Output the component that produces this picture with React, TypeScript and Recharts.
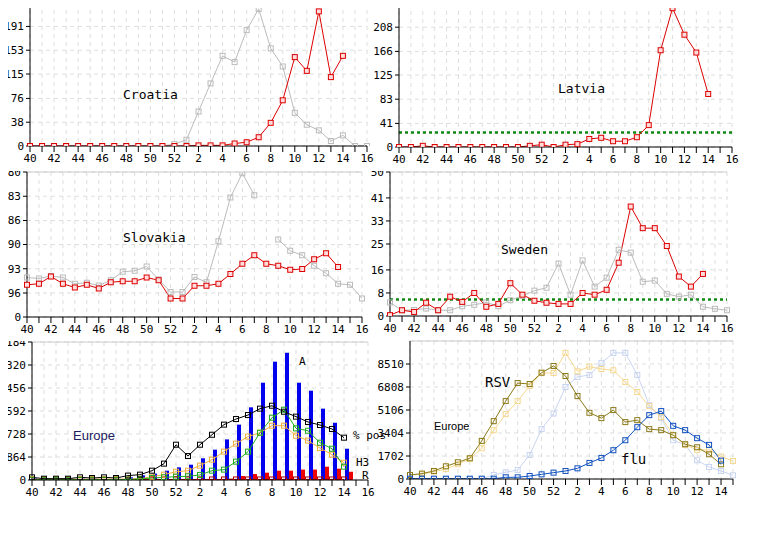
import React from "react";
import {
  ComposedChart,
  Line,
  Bar,
  XAxis,
  YAxis,
  CartesianGrid,
  ReferenceLine,
} from "recharts";

const weeks = [40, 41, 42, 43, 44, 45, 46, 47, 48, 49, 50, 51, 52, 1, 2, 3, 4, 5, 6, 7, 8, 9, 10, 11, 12, 13, 14, 15, 16];

const croatiaNow = [0, 0, 0, 0, 0, 0, 0, 0, 0, 0, 0, 0, 0, 0, 1, 1, 1, 4, 6, 14, 37, 73, 142, 120, 215, 110, 144, null, null];
const croatiaPrev = [0, 0, 0, 0, 0, 0, 0, 0, 0, 0, 0, 0, 3, 10, 55, 100, 144, 134, 185, 219, 156, 127, 53, 34, 25, 8, 17, 0, 0];
const latviaNow = [0, 0, 2, 0, 0, 0, 0, 0, 0, 0, 0, 2, 4, 0, 4, 5, 14, 16, 10, 10, 17, 38, 168, 241, 195, 164, 92, null, null];
const latviaThreshold = 25;
const slovakiaNow = [129, 133, 162, 133, 118, 129, 114, 139, 143, 143, 158, 147, 74, 74, 125, 125, 133, 172, 213, 247, 213, 205, 189, 192, 231, 255, 200, null, null];
const slovakiaPrev = [158, 154, 164, 158, 133, 137, 126, 147, 181, 185, 202, 150, 100, 100, 160, 139, 303, 478, 575, 487, null, 310, 265, 247, 205, 175, 133, 129, 74];
const swedenNow = [0.3, 2, 1.4, 4.6, 2, 6.7, 4.9, 8, 3.2, 4.2, 11.4, 7.4, 5.3, 4.6, 4.2, 4.2, 8, 7.4, 9.1, 18.5, 38, 30.5, 30.5, 24.3, 13.7, 10.2, 14.6, null, null];
const swedenPrev = [4.7, 2, 2.1, 2.6, 2, 2, 3.4, 3.9, 4.7, 3.4, 5.5, 7, 8.8, 9.8, 18.2, 7.4, 19.3, 10.2, 13.3, 23, 22, 11.9, 12.3, 7.7, 6.7, 7.4, 3.2, 2.5, 2];
const swedenThreshold = 5.7;

const euA = [60, 50, 50, 50, 50, 40, 40, 40, 100, 175, 240, 350, 475, 575, 815, 1140, 1525, 2080, 2730, 3655, 4445, 4780, 3655, 3355, 2680, 2150, 1175, null, null];
const euH3 = [0, 0, 0, 0, 0, 0, 0, 0, 0, 0, 0, 0, 0, 0, 0, 0, 50, 150, 225, 275, 350, 350, 390, 390, 500, 425, 310, null, null];
const euPos = [100, 50, 50, 50, 100, 75, 100, 75, 165, 200, 350, 615, 1325, 900, 1325, 1700, 2080, 2290, 2440, 2680, 2790, 2565, 2380, 2180, 2065, 1915, 1590, null, null];
const euGreen = [10, 10, 10, 10, 10, 10, 10, 10, 20, 40, 75, 100, 125, 140, 190, 350, 390, 690, 1065, 1775, 2340, 2640, 1940, 1850, 1400, 1175, 500, null, null];
const euOrange = [30, 30, 30, 30, 30, 30, 30, 30, 30, 50, 125, 200, 310, 350, 540, 765, 1065, 1365, 1630, 1775, 2040, 2040, 1665, 1480, 1200, 950, 650, null, null];
const euR = [20, 20, 20, 20, 20, 20, 20, 20, 20, 20, 20, 20, 20, 20, 20, 20, 20, 20, 20, 20, 20, 20, 20, 20, 20, 20, 20, null, null];

const rsvNow = [300, 400, 595, 940, 1240, 1535, 2820, 4280, 5765, 7100, 7030, 7870, 8365, 7620, 6135, 4900, 4505, 5100, 4210, 4355, 3690, 3615, 3240, 2575, 2350, 1830, 1090, null];
const rsvPrev = [300, 350, 545, 740, 1090, 1485, 2275, 3615, 4800, 5765, 6880, 7845, 7845, 9330, 7970, 8315, 8140, 8045, 7180, 6435, 5395, 4580, 3265, 2525, 2155, 2155, 1660, 1335];
const fluNow = [20, 20, 20, 20, 20, 20, 20, 20, 125, 125, 220, 345, 470, 595, 790, 1190, 1560, 2130, 2870, 3835, 4725, 5025, 3935, 3615, 3020, 2525, 1360, null];
const fluPrev = [20, 20, 20, 20, 20, 20, 20, 300, 495, 670, 1780, 3690, 4850, 6805, 7550, 7700, 8590, 9330, 9330, 7700, 5470, 4505, 2870, 2525, 1385, 890, 595, 270];

const FONT = "'DejaVu Sans Mono', monospace";

type SeriesDef = {
  values: (number | null)[];
  color: string;
  fill?: string;
  dots?: boolean;
  width?: number;
};

type PanelProps = {
  axisX: number;
  lastX: number;
  top: number;
  bottom: number;
  count: number;
  yMax: number;
  yTicks: number[];
  lines: SeriesDef[];
  bars?: { values: (number | null)[]; color: string; shift: number }[];
  threshold?: number;
};

const squareDot = (stroke: string, fill: string) => (p: any) => {
  if (p.cx == null || p.cy == null || p.value == null) return <g key={p.key} />;
  return (
    <rect key={p.key} x={p.cx - 2.5} y={p.cy - 2.5} width={5} height={5} stroke={stroke} fill={fill} strokeWidth={1} />
  );
};

function Panel({ axisX, lastX, top, bottom, count, yMax, yTicks, lines, bars, threshold }: PanelProps) {
  const yw = Math.min(36, axisX);
  const xh = 22;
  const mr = 8;
  const wk = weeks.slice(0, count);
  const rows = wk.map((w, i) => {
    const r: any = { i, w };
    lines.forEach((s, k) => (r["l" + k] = s.values[i]));
    (bars || []).forEach((b, k) => (r["b" + k] = b.values[i]));
    return r;
  });
  const idx = wk.map((_, i) => i);
  const width = yw + (lastX - axisX) + mr;
  const height = bottom - top + xh + 1;
  return (
    <div style={{ position: "absolute", left: axisX - yw, top: top - 1 }}>
      <ComposedChart width={width} height={height} data={rows} margin={{ top: 1, right: mr, bottom: 0, left: 0 }} barGap={0}>
        <CartesianGrid strokeDasharray="4 4" stroke="#dddddd" />
        <XAxis
          type="number"
          dataKey="i"
          domain={[0, count - 1]}
          ticks={idx}
          interval={0}
          tickFormatter={(v: number) => (wk[v] % 2 === 0 ? String(wk[v]) : "")}
          tick={{ fontSize: 11, fontFamily: FONT, fill: "#000" }}
          stroke="#000"
          tickSize={6}
          height={xh}
          allowDecimals={false}
        />
        <YAxis
          type="number"
          domain={[0, yMax]}
          ticks={yTicks}
          interval={0}
          tick={{ fontSize: 11, fontFamily: FONT, fill: "#000" }}
          stroke="#000"
          width={yw}
          tickSize={4}
          allowDataOverflow
        />
        <ReferenceLine y={yMax} stroke="#cccccc" />
        {threshold != null && (
          <ReferenceLine y={threshold} stroke="#118811" strokeWidth={2.5} strokeDasharray="3 3" />
        )}
        {(bars || []).map((b, k) => (
          <Bar
            key={"b" + k}
            dataKey={"b" + k}
            fill={b.color}
            barSize={4}
            isAnimationActive={false}
            shape={(p: any) => <rect x={p.x + b.shift} y={p.y} width={4} height={Math.max(0, p.height)} fill={b.color} />}
          />
        ))}
        {lines.map((s, k) => (
          <Line
            key={"l" + k}
            dataKey={"l" + k}
            type="linear"
            stroke={s.color}
            strokeWidth={s.width ?? 1}
            dot={s.dots === false ? false : squareDot(s.color, s.fill ?? "none")}
            activeDot={false}
            connectNulls={false}
            isAnimationActive={false}
          />
        ))}
      </ComposedChart>
    </div>
  );
}

const label = (text: string, x: number, y: number, size = 13, color = "#000", font = FONT) => (
  <div style={{ position: "absolute", left: x, top: y, fontSize: size, fontFamily: font, color, whiteSpace: "nowrap", lineHeight: 1 }}>
    {text}
  </div>
);

export default function App() {
  const red = "#dd0000";
  const gray = "#bbbbbb";
  return (
    <div style={{ position: "relative", width: 760, height: 550, margin: -8, background: "#fff", overflow: "hidden" }}>
      <Panel axisX={399} lastX={732} top={3} bottom={147} count={29} yMax={250} yTicks={[0, 41, 83, 125, 166, 208, 250]}
        lines={[{ values: latviaNow, color: red, fill: "#ffdddd" }]} threshold={latviaThreshold} />
      <Panel axisX={30} lastX={367} top={2} bottom={146} count={29} yMax={230} yTicks={[0, 38, 76, 115, 153, 191, 230]}
        lines={[{ values: croatiaPrev, color: gray }, { values: croatiaNow, color: red, fill: "#ffdddd" }]} />
      <Panel axisX={390} lastX={727} top={172} bottom={316} count={29} yMax={50} yTicks={[0, 8, 16, 25, 33, 41, 50]}
        lines={[{ values: swedenPrev, color: gray }, { values: swedenNow, color: red, fill: "#ffdddd" }]} threshold={swedenThreshold} />
      <Panel axisX={27} lastX={362} top={172} bottom={317} count={29} yMax={580} yTicks={[0, 96, 193, 290, 386, 483, 580]}
        lines={[{ values: slovakiaPrev, color: gray }, { values: slovakiaNow, color: red, fill: "#ffdddd" }]} />
      <Panel axisX={410} lastX={733} top={341} bottom={479} count={28} yMax={10212} yTicks={[0, 1702, 3404, 5106, 6808, 8510]}
        lines={[
          { values: fluPrev, color: "#c8d4f0" },
          { values: rsvPrev, color: "#f5d890" },
          { values: rsvNow, color: "#8b7a1a" },
          { values: fluNow, color: "#1050c0" },
        ]} />
      <Panel axisX={32} lastX={368} top={342} bottom={480} count={29} yMax={5184} yTicks={[0, 864, 1728, 2592, 3456, 4320, 5184]}
        bars={[{ values: euA, color: "#0000ee", shift: 5 }, { values: euH3, color: "#ee0000", shift: 5 }]}
        lines={[
          { values: euR, color: "#aa0000" },
          { values: euOrange, color: "#f0b040" },
          { values: euGreen, color: "#22aa22" },
          { values: euPos, color: "#000000" },
        ]} />
      {label("Croatia", 123, 88)}
      {label("Latvia", 558, 82)}
      {label("Slovakia", 123, 231)}
      {label("Sweden", 501, 243)}
      {label("Europe", 73, 429, 13, "#202060", "'Liberation Sans', sans-serif")}
      {label("A", 299, 356, 11)}
      {label("% pos", 353, 430, 11)}
      {label("H3", 356, 457, 11)}
      {label("R", 362, 470, 11)}
      {label("RSV", 485, 375, 14)}
      {label("Europe", 434, 421, 11, "#000", "'Liberation Sans', sans-serif")}
      {label("flu", 621, 452, 14)}
    </div>
  );
}
